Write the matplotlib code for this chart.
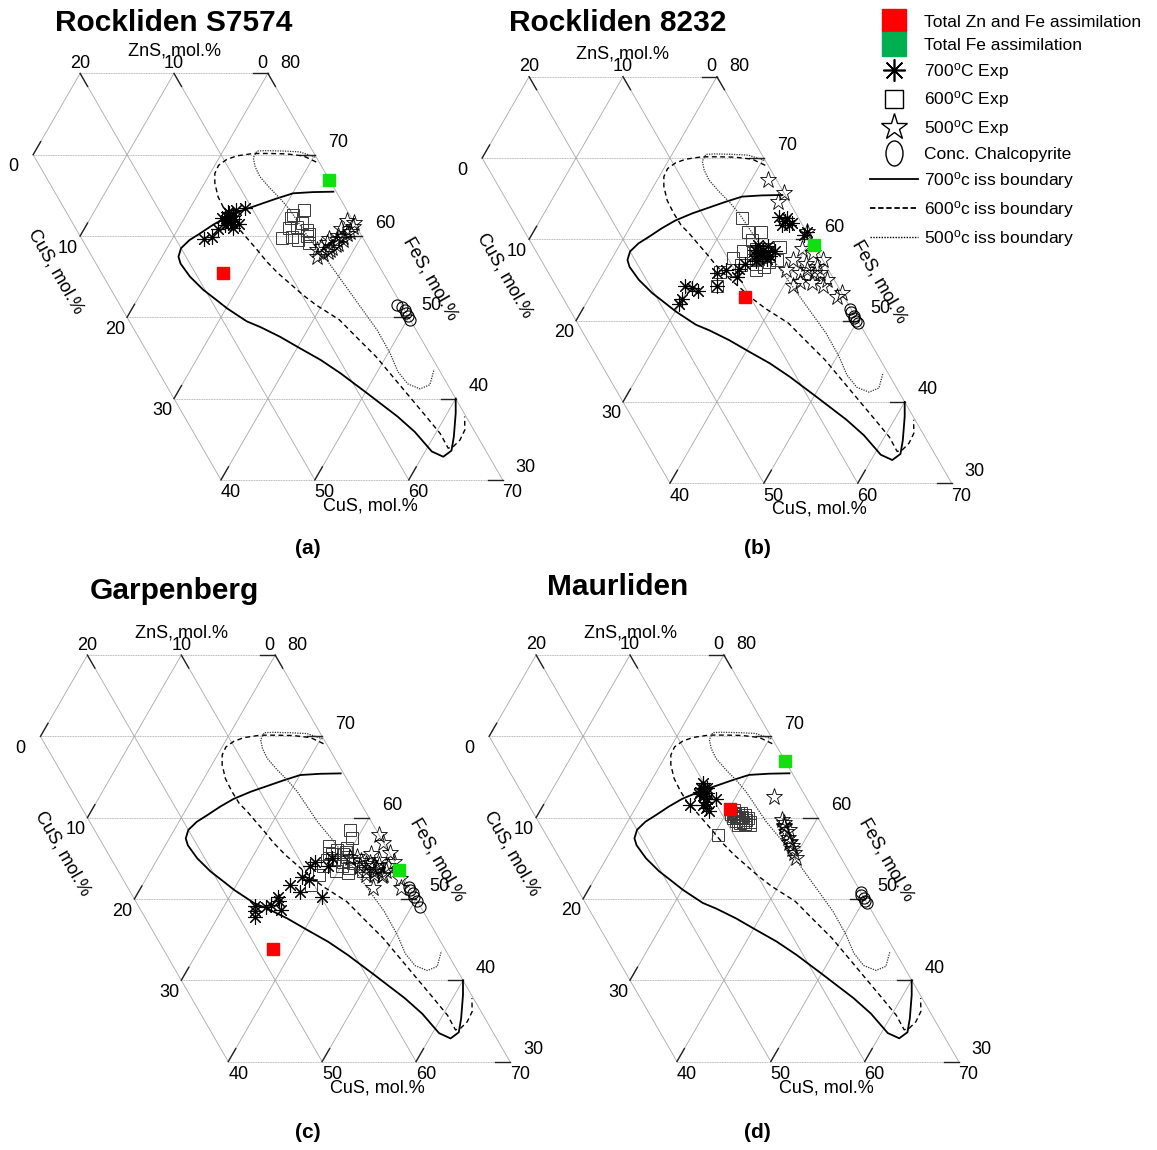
import numpy as np
import matplotlib.pyplot as plt
from matplotlib.lines import Line2D
from matplotlib.path import Path
from matplotlib.transforms import Affine2D

plt.rcParams['font.family'] = ['Liberation Sans', 'DejaVu Sans']
plt.rcParams['mathtext.default'] = 'regular'

# all compositions are (ZnS, FeS) in mol.%, CuS = 100 - ZnS - FeS

# iss boundaries
iss700 = np.array([
    (0.3, 65.45), (2.5, 65.4), (4.7, 65.25), (6.8, 64.6), (8.9, 63.9), (11.0, 63.2),
    (13.3, 62.3), (15.2, 61.35), (17.1, 60.3), (18.6, 59.5), (20.0, 58.5), (20.8, 57.45),
    (21.0, 56.6), (20.8, 55.0), (20.2, 53.4), (19.4, 52.1), (18.8, 51.1), (17.5, 49.5),
    (16.4, 48.8), (14.9, 47.6), (13.5, 46.2), (12.0, 44.75), (10.7, 43.1), (9.1, 40.65),
    (7.3, 37.8), (6.4, 35.9), (5.8, 33.5), (4.9, 32.85), (3.65, 33.6), (2.55, 35.3),
    (0.9, 38.2), (0.0, 40.0)])
iss600 = np.array([
    (0.3, 69.1), (1.3, 69.85), (3.0, 70.1), (4.7, 70.15), (6.5, 70.15), (8.4, 69.85),
    (9.7, 69.4), (10.9, 68.7), (11.8, 67.7), (12.4, 66.5), (12.9, 64.8), (13.0, 63.2),
    (12.95, 61.75), (12.6, 60.75), (12.3, 59.5), (12.0, 58.3), (11.7, 56.85), (11.2, 55.4),
    (10.5, 54.0), (9.9, 52.75), (9.1, 51.5), (7.55, 49.7), (6.8, 47.6), (5.9, 45.15),
    (5.35, 42.7), (4.8, 40.25), (4.25, 37.8), (3.8, 35.7), (3.85, 33.9), (3.2, 34.1),
    (2.1, 34.9), (0.95, 36.15), (0.15, 37.8)])
iss500 = np.array([
    (0.1, 69.7), (1.45, 70.35), (3.15, 70.45), (4.95, 70.5), (5.95, 70.45), (6.75, 69.6),
    (7.1, 68.5), (7.2, 67.3), (6.85, 65.9), (6.4, 64.65), (6.05, 63.2), (5.95, 62.0),
    (5.75, 59.5), (5.2, 57.05), (4.85, 54.2), (4.5, 51.3), (4.15, 48.45), (4.2, 45.6),
    (4.5, 43.3), (4.2, 41.8), (3.2, 41.2), (1.9, 41.7), (0.5, 43.6)])

# Rockliden S7574
a_zn_fe = [(17.1, 55.4)]
a_fe = [(0.0, 66.9)]
a_exp700 = [(13.0, 62.0), (13.4, 61.6), (12.5, 62.4), (13.8, 62.2), (12.3, 61.5), (13.9, 61.4),
            (12.7, 62.8), (10.7, 63.5), (11.8, 63.2), (14.9, 60.8), (16.0, 59.9), (17.0, 59.6),
            (13.2, 61.0), (12.8, 63.0), (13.2, 62.3), (12.9, 61.8), (13.5, 62.0), (12.6, 62.1),
            (13.1, 61.7)]
a_exp600 = [(4.6, 63.2), (6.4, 62.2), (8.6, 59.8), (7.5, 59.9), (7.0, 59.5), (6.1, 59.1),
            (5.6, 61.6), (6.4, 61.1), (5.5, 60.7), (5.5, 60.3), (7.2, 61.0), (6.0, 62.6),
            (5.8, 60.0)]
a_exp500 = [(5.65, 58.3), (4.15, 59.1), (2.9, 59.5), (1.45, 60.3), (0.35, 61.1), (0.0, 61.6),
            (6.05, 57.45), (4.25, 58.3), (2.0, 59.9), (4.95, 58.7), (1.0, 60.5), (3.35, 58.9),
            (2.5, 60.0), (3.7, 59.6), (0.7, 61.8), (5.25, 57.8), (3.0, 59.0), (2.2, 59.5),
            (4.6, 58.0), (3.9, 58.5), (1.8, 60.8)]
a_ccp = [(0.5, 51.5), (0.1, 51.3), (0.0, 50.9), (0.0, 50.5), (0.0, 50.1), (0.0, 49.7)]

# Rockliden 8232
b_zn_fe = [(10.6, 52.9)]
b_fe = [(0.0, 59.3)]
b_exp700 = [(1.7, 62.2), (1.2, 62.6), (2.2, 61.8), (1.5, 61.7), (2.0, 62.7), (1.0, 62.0),
            (5.7, 58.7), (6.3, 58.3), (5.0, 59.2), (6.8, 58.0), (5.3, 58.0), (4.6, 58.5),
            (6.0, 59.3), (7.2, 57.3), (10.9, 56.2), (12.1, 55.8), (10.2, 55.4), (12.9, 54.2),
            (15.7, 54.0), (15.2, 53.6), (16.2, 54.3), (17.4, 52.6), (18.0, 52.0), (0.0, 60.9),
            (0.5, 60.5), (8.5, 57.0), (9.5, 56.3), (6.2, 58.0), (5.9, 57.6), (6.6, 58.7),
            (5.4, 58.4)]
b_exp600 = [(6.0, 62.6), (6.2, 60.9), (4.9, 60.9), (6.3, 59.9), (9.4, 57.7), (10.3, 56.2),
            (11.7, 56.0), (12.9, 54.2), (7.4, 57.5), (6.7, 56.6), (4.9, 57.5), (3.7, 59.1),
            (7.7, 56.2), (8.0, 58.5), (5.5, 58.0), (9.0, 56.8), (6.0, 58.0), (6.5, 57.8),
            (5.8, 57.2), (7.0, 58.3), (6.4, 58.8), (5.2, 58.8), (7.3, 57.0), (6.8, 57.6)]
b_exp500 = [(0.9, 67.3), (0.0, 65.7), (1.2, 64.6), (0.0, 60.9), (0.6, 58.3), (0.0, 57.5),
            (1.1, 55.8), (0.8, 55.0), (1.6, 54.2), (0.8, 52.9), (0.0, 53.4), (4.8, 54.2),
            (4.5, 56.2), (3.2, 55.8), (3.1, 57.5), (2.3, 56.2), (1.8, 55.8), (2.0, 57.0),
            (1.0, 56.6), (3.8, 54.8), (2.6, 54.6), (1.5, 58.8)]
b_ccp = [(0.1, 51.4), (0.2, 51.0), (0.1, 50.6), (0.3, 50.3), (0.2, 50.0), (0.1, 49.7)]

# Garpenberg
c_zn_fe = [(18.3, 43.8)]
c_fe = [(0.0, 53.6)]
c_exp700 = [(17.6, 49.1), (18.2, 47.8), (17.9, 48.5), (15.8, 49.3), (14.7, 49.7), (15.0, 48.7),
            (14.5, 50.3), (12.6, 51.7), (11.9, 50.9), (10.8, 52.7), (10.3, 52.3), (9.3, 54.0),
            (9.9, 50.3), (7.4, 54.0), (16.5, 49.0), (8.5, 54.5), (6.5, 55.0)]
c_exp600 = [(2.8, 58.5), (3.1, 57.5), (5.4, 56.0), (4.8, 55.2), (7.1, 54.8), (5.9, 54.0),
            (7.9, 54.0), (5.6, 53.2), (10.3, 51.7), (6.5, 55.6), (4.2, 56.3), (6.8, 53.5),
            (4.5, 54.4), (8.8, 53.0), (3.9, 53.4), (6.0, 56.5), (5.0, 55.5), (5.5, 54.5),
            (6.3, 54.8), (4.6, 55.8), (5.2, 53.8), (6.2, 55.5)]
c_exp500 = [(0.0, 57.9), (0.1, 56.9), (0.0, 55.6), (0.1, 54.6), (2.7, 54.4), (3.5, 53.6),
            (2.4, 53.6), (4.0, 54.0), (3.9, 51.3), (0.9, 51.3), (3.7, 55.2), (1.8, 54.2),
            (2.2, 52.8), (3.0, 53.0), (1.5, 53.5), (4.5, 55.0), (2.0, 55.5), (1.0, 54.0),
            (0.5, 52.5), (2.5, 54.0), (3.2, 54.3), (2.8, 53.3), (3.5, 54.7), (2.0, 53.0),
            (1.5, 54.8), (3.8, 53.0)]
c_ccp = [(0.0, 51.5), (0.1, 51.1), (0.0, 50.7), (0.1, 50.2), (0.0, 49.7), (0.1, 49.0)]

# Maurliden
d_zn_fe = [(8.8, 61.1)]
d_fe = [(0.0, 67.0)]
d_exp700 = [(10.6, 63.7), (11.2, 62.9), (10.6, 62.3), (11.2, 60.8), (12.8, 61.6), (10.1, 64.3),
            (9.7, 62.3), (10.9, 63.2), (11.5, 61.5), (10.3, 63.0), (10.4, 63.5), (10.8, 62.6),
            (11.0, 61.9), (11.3, 61.2), (10.0, 63.7)]
d_exp600 = [(8.4, 59.9), (8.6, 60.4), (8.0, 60.1), (8.9, 59.6), (7.8, 59.7), (8.2, 60.6),
            (8.7, 59.9), (7.6, 60.3), (8.3, 59.4), (11.7, 57.9), (8.1, 59.2), (8.8, 60.2),
            (7.5, 59.5), (9.1, 59.9), (8.5, 60.9), (7.9, 60.6), (8.6, 59.3), (7.4, 60.0),
            (9.0, 60.5), (8.2, 59.9), (8.9, 59.1), (7.7, 59.1)]
d_exp500 = [(3.4, 62.5), (4.0, 59.7), (4.3, 58.2), (4.6, 56.9), (4.7, 56.1), (4.8, 55.0),
            (4.1, 59.0), (4.4, 57.5), (3.8, 58.5), (4.5, 56.5), (4.2, 58.8), (4.5, 57.0),
            (3.9, 59.3), (4.7, 55.6)]
d_ccp = [(0.0, 50.8), (0.1, 50.5), (0.0, 50.1), (0.1, 49.8), (0.0, 49.5)]

panels = [
    ('Rockliden S7574', '(a)', (-295.5, 236.0), (174, 23), (308, 548),
     a_zn_fe, a_fe, a_exp700, a_exp600, a_exp500, a_ccp),
    ('Rockliden 8232', '(b)', (153.5, 239.3), (618, 23), (757, 548),
     b_zn_fe, b_fe, b_exp700, b_exp600, b_exp500, b_ccp),
    ('Garpenberg', '(c)', (-288.2, 817.7), (174, 591), (308, 1133),
     c_zn_fe, c_fe, c_exp700, c_exp600, c_exp500, c_ccp),
    ('Maurliden', '(d)', (160.5, 817.6), (618, 587), (757, 1133),
     d_zn_fe, d_fe, d_exp700, d_exp600, d_exp500, d_ccp),
]

W, H = 1157, 1150
fig = plt.figure(figsize=(W / 100, H / 100), dpi=100)

SX, SY = 9.39, 8.13          # pixels per unit of (CuS + FeS/2) and of FeS
T0, T1, F0, F1 = 25, 95, 20, 90


def tern(pts):
    pts = np.asarray(pts, dtype=float)
    zn, fe = pts[:, 0], pts[:, 1]
    cu = 100 - zn - fe
    return cu + fe / 2, fe


def panel_axes(x0, y60):
    left = x0 + SX * T0
    top = y60 - SY * (F1 - 60)
    w, h = SX * (T1 - T0), SY * (F1 - F0)
    ax = fig.add_axes([left / W, 1 - (top + h) / H, w / W, h / H])
    ax.set_xlim(T0, T1)
    ax.set_ylim(F0, F1)
    ax.axis('off')
    return ax


def draw_frame(ax):
    grid = dict(color='#a8a8a8', lw=0.6, zorder=1)
    for f in range(30, 81, 10):
        t, y = tern([(0, f), (min(30, 100 - f), f)])
        ax.plot(t, y, ls=(0, (1.2, 0.8)), **grid)
    for z in range(0, 31, 10):
        t, y = tern([(z, 30), (z, min(80, 100 - z))])
        ax.plot(t, y, **grid)
    for c in range(0, 71, 10):
        lo, hi = max(30, 70 - c), min(80, 100 - c)
        if hi > lo:
            t, y = tern([(100 - c - lo, lo), (100 - c - hi, hi)])
            ax.plot(t, y, **grid)

    tick = dict(color='#222222', lw=1.0, zorder=2)
    L = 1.6
    for z in (0, 10, 20):
        ax.plot(*tern([(z, 80), (z, 80 - L)]), **tick)
    for f in range(30, 81, 10):
        ax.plot(*tern([(0, f), (L, f)]), **tick)
    for c in range(0, 61, 10):
        f = max(30, 70 - c)
        z = 100 - c - f
        ax.plot(*tern([(z, f), (z - L, f + L)]), **tick)

    fs = 13
    for lab, t in (('20', 40), ('10', 50), ('0', 59.4), ('80', 62.35)):
        ax.text(t, 81.24, lab, fontsize=fs, ha='center', va='center')
    for f in (70, 60, 50, 40, 30):
        ax.text(100 - f / 2 + 2.45, f + 1.48, str(f), fontsize=fs, ha='center', va='center')
    for c in (0, 10, 20, 30):
        dt = 2.13 if c == 0 else 1.28
        ax.text(35 + c / 2 - dt, 70 - c - 1.48, str(c), fontsize=fs, ha='center', va='center')
    for c in (40, 50, 60, 70):
        ax.text(c + 15 + 1.06, 28.4, str(c), fontsize=fs, ha='center', va='center')

    ax.text(50, 82.76, 'ZnS, mol.%', fontsize=13, ha='center', va='center')
    ax.text(70.9, 26.8, 'CuS, mol.%', fontsize=13, ha='center', va='center')
    ax.text(37.4, 55.6, 'CuS, mol.%', fontsize=13, ha='center', va='center',
            rotation=-60, rotation_mode='anchor')
    ax.text(77.26, 54.8, 'FeS, mol.%', fontsize=13, ha='center', va='center',
            rotation=-60, rotation_mode='anchor')


asterisk = (8, 2, 0)

for (title, tag, (x0, y60), tpos, lpos,
     zn_fe, fe_only, exp700, exp600, exp500, ccp) in panels:
    ax = panel_axes(x0, y60)
    draw_frame(ax)

    ax.plot(*tern(iss700), color='black', lw=1.3, zorder=3)
    ax.plot(*tern(iss600), color='black', lw=1.0, ls=(0, (3.5, 2.5)), zorder=3)
    ax.plot(*tern(iss500), color='#333333', lw=0.9, ls=(0, (1, 1)), zorder=3)

    ax.plot(*tern(exp600), ls='none', marker='s', ms=8.5, mfc='none', mec='#3a3a3a',
            mew=0.7, zorder=4)
    ax.plot(*tern(exp500), ls='none', marker='*', ms=12.5, mfc='none', mec='black',
            mew=0.6, zorder=4)
    ax.plot(*tern(exp700), ls='none', marker=asterisk, ms=10.5, color='black',
            mew=0.8, zorder=4)
    ax.plot(*tern(ccp), ls='none', marker='o', ms=8, mfc='none', mec='black',
            mew=0.8, zorder=4)
    ax.plot(*tern(zn_fe), ls='none', marker='s', ms=8.5, mfc='#ff0000', mec='#ff0000',
            zorder=5)
    ax.plot(*tern(fe_only), ls='none', marker='s', ms=8.5, mfc='#10e010', mec='#10e010',
            zorder=5)

    fig.text(tpos[0] / W, 1 - tpos[1] / H, title, fontsize=21.5, fontweight='bold',
             ha='center', va='center')
    fig.text(lpos[0] / W, 1 - lpos[1] / H, tag, fontsize=15, fontweight='bold',
             ha='center', va='center')

ellipse = Path.unit_circle().transformed(Affine2D().scale(0.68, 1.0))
handles = [
    Line2D([], [], ls='none', marker='s', ms=17, mfc='#ff0000', mec='#ff0000'),
    Line2D([], [], ls='none', marker='s', ms=17, mfc='#00b050', mec='#00b050'),
    Line2D([], [], ls='none', marker=asterisk, ms=16, color='black', mew=1.2),
    Line2D([], [], ls='none', marker='s', ms=12.5, mfc='none', mec='black', mew=1.0),
    Line2D([], [], ls='none', marker='*', ms=20, mfc='none', mec='black', mew=1.0),
    Line2D([], [], ls='none', marker=ellipse, ms=18, mfc='none', mec='black', mew=1.0),
    Line2D([], [], color='black', lw=1.3),
    Line2D([], [], color='black', lw=1.3, ls=(0, (3, 1.5))),
    Line2D([], [], color='black', lw=1.0, ls=(0, (1, 1))),
]
labels = ['Total Zn and Fe assimilation', 'Total Fe assimilation',
          '700$^{o}$C Exp', '600$^{o}$C Exp', '500$^{o}$C Exp', 'Conc. Chalcopyrite',
          '700$^{o}$c iss boundary', '600$^{o}$c iss boundary', '500$^{o}$c iss boundary']
fig.legend(handles, labels, loc='upper right', bbox_to_anchor=(1150 / W, 1 - 6 / H),
           frameon=False, fontsize=12.5, handlelength=2.75, handletextpad=0.35,
           labelspacing=0.45, borderpad=0)

fig.savefig('out.png', dpi=100)
